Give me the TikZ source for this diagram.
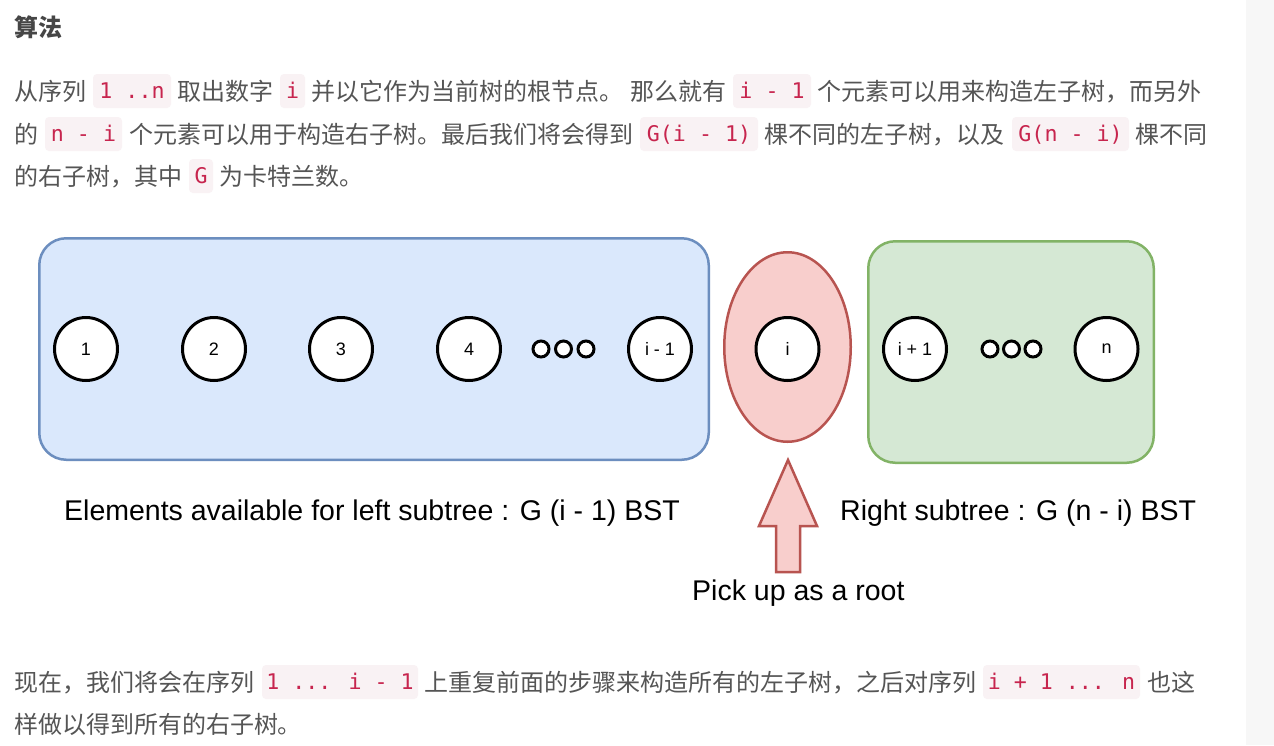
\documentclass[tikz,border=0pt]{standalone}
\usepackage{fontspec}
\setmainfont{Liberation Sans}
\newfontfamily\cjk{Noto Sans CJK SC}
\newfontfamily\codefont{DejaVu Sans Mono}
\usetikzlibrary{shapes.geometric}
\definecolor{bodygray}{RGB}{85,85,85}
\definecolor{titlegray}{RGB}{70,70,70}
\definecolor{codered}{RGB}{199,37,78}
\definecolor{codebg}{RGB}{249,242,244}
\definecolor{stripgray}{RGB}{247,247,247}
\definecolor{bluefill}{HTML}{DAE8FC}
\definecolor{bluedraw}{HTML}{6C8EBF}
\definecolor{redfill}{HTML}{F8CECC}
\definecolor{reddraw}{HTML}{B85450}
\definecolor{greenfill}{HTML}{D5E8D4}
\definecolor{greendraw}{HTML}{82B366}
\tikzset{
  seg/.style={font=\cjk\fontsize{24}{28}\selectfont, text=bodygray, inner sep=0pt, outer sep=0pt, anchor=west, text height=18.2pt, text depth=0pt},
  titleseg/.style={seg, font=\cjk\bfseries\fontsize{24}{28}\selectfont, text=titlegray},
  code/.style={font=\codefont\fontsize{21.6}{24}\selectfont, text=codered, fill=codebg, rounded corners=4pt, inner sep=0pt, minimum height=34pt, text height=15.8pt, text depth=0pt},
  elem/.style={circle, draw=black, fill=white, line width=3pt, minimum size=63pt, inner sep=0pt, font=\fontsize{18}{20}\selectfont},
  dot/.style={circle, draw=black, fill=white, line width=3pt, minimum size=16pt, inner sep=0pt},
  lbl/.style={font=\fontsize{28.5}{32}\selectfont, text=black, inner sep=0pt, anchor=base west},
  bluebox/.style={draw=bluedraw, fill=bluefill, line width=2.5pt, rounded corners=27pt},
  greenbox/.style={draw=greendraw, fill=greenfill, line width=2.5pt, rounded corners=27pt},
}
\begin{document}
\begin{tikzpicture}[x=1pt,y=-1pt]
\useasboundingbox (0,0) rectangle (1274,745);
\fill[white] (0,0) rectangle (1274,745);
\fill[stripgray] (1246,0) rectangle (1274,745);

% title
\node[titleseg] (title) at (14,27) {算法};

% line 1
\node[seg] (a1) at (14,91) {从序列};
\node[code, minimum width=78pt] (c1) at (132,91) {1 ..n};
\node[seg] (a2) at (177,91) {取出数字};
\node[code, minimum width=25pt] (c2) at (292.5,91) {i};
\node[seg] (a3) at (311,91) {并以它作为当前树的根节点。};
\node[seg] (a4) at (630,91) {那么就有};
\node[code, minimum width=78pt] (c3) at (772,91) {i - 1};
\node[seg] (a5) at (817,91) {个元素可以用来构造左子树，而另外};

% line 2
\node[seg] (b1) at (14,134) {的};
\node[code, minimum width=77pt] (c4) at (83.5,134) {n - i};
\node[seg] (b2) at (129,134) {个元素可以用于构造右子树。最后我们将会得到};
\node[code, minimum width=118pt] (c5) at (699,134) {G(i - 1)};
\node[seg] (b3) at (764,134) {棵不同的左子树，以及};
\node[code, minimum width=117pt] (c6) at (1070.5,134) {G(n - i)};
\node[seg] (b4) at (1135,134) {棵不同};

% line 3
\node[seg] (d1) at (14,176) {的右子树，其中};
\node[code, minimum width=24pt] (c7) at (201,176) {G};
\node[seg] (d2) at (219,176) {为卡特兰数。};

% bottom lines
\node[seg] (e1) at (14,682) {现在，我们将会在序列};
\node[code, minimum width=156pt] (c8) at (340,682) {1 ... i - 1};
\node[seg] (e2) at (424,682) {上重复前面的步骤来构造所有的左子树，之后对序列};
\node[code, minimum width=157pt] (c9) at (1061.5,682) {i + 1 ... n};
\node[seg] (e3) at (1147,682) {也这};
\node[seg] (f1) at (14,724) {样做以得到所有的右子树。};

% diagram containers
\draw[bluebox] (39.25,238.25) rectangle (708.75,459.75);
\draw[greenbox] (868.25,241.25) rectangle (1153.75,462.75);
\node[ellipse, draw=reddraw, fill=redfill, line width=2.5pt, minimum width=126.5pt, minimum height=189.5pt, inner sep=0pt] (root) at (787.5,347) {};

% left elements
\node[elem] (n1) at (86,349) {1};
\node[elem] (n2) at (214,349) {2};
\node[elem] (n3) at (341,349) {3};
\node[elem] (n4) at (469,349) {4};
\node[dot] (l1) at (541,349) {};
\node[dot] (l2) at (563.5,349) {};
\node[dot] (l3) at (586,349) {};
\node[elem] (nim1) at (660,349) {i - 1};

% root element
\node[elem] (ni) at (787.5,349) {i};

% right elements
\node[elem] (nip1) at (915,349) {i + 1};
\node[dot] (r1) at (990,349) {};
\node[dot] (r2) at (1011.5,349) {};
\node[dot] (r3) at (1033,349) {};
\node[elem] (nn) at (1106.5,349) {n};

% block arrow
\draw[draw=reddraw, fill=redfill, line width=2.5pt, line join=miter]
  (788,460) -- (817,526) -- (800,526) -- (800,572) -- (776,572) -- (776,526) -- (759,526) -- cycle;

% labels
\node[lbl] (ll) at (64,520) {Elements available for left subtree : G (i - 1) BST};
\node[lbl] (rl) at (840,520) {Right subtree : G (n - i) BST};
\node[lbl] (pl) at (692,600) {Pick up as a root};
\end{tikzpicture}
\end{document}
